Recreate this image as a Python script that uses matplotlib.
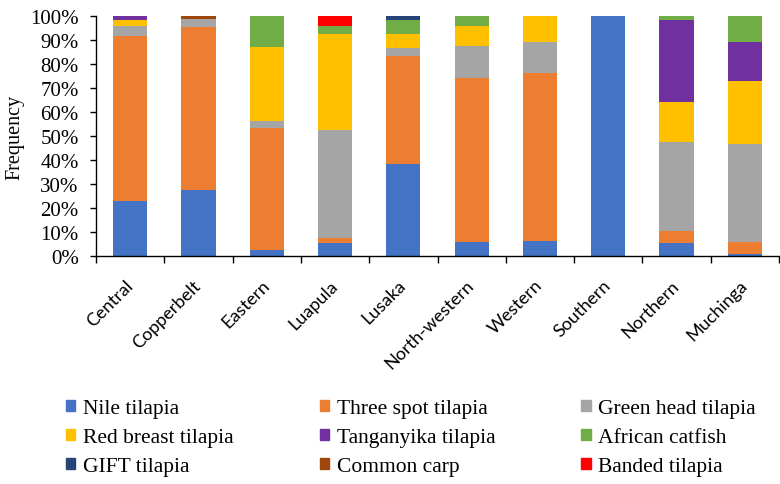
import matplotlib
matplotlib.use("Agg")
import matplotlib.pyplot as plt
from matplotlib.patches import Patch
import numpy as np

regions = ["Central", "Copperbelt", "Eastern", "Luapula", "Lusaka",
           "North-western", "Western", "Southern", "Northern", "Muchinga"]

species = ["Nile tilapia", "Three spot tilapia", "Green head tilapia",
           "Red breast tilapia", "Tanganyika tilapia", "African catfish",
           "GIFT tilapia", "Common carp", "Banded tilapia"]

# percent of each region, stacked bottom to top in the order above
nile       = [22.8, 27.4, 2.6, 5.4, 38.2, 5.8, 6.3, 100.0, 5.3, 1.0]
three_spot = [68.9, 67.9, 50.7, 2.1, 45.3, 68.2, 69.8, 0.0, 5.0, 5.0]
green_head = [4.0, 3.3, 2.8, 44.9, 3.0, 13.6, 13.2, 0.0, 37.1, 40.5]
red_breast = [2.5, 0.0, 31.0, 40.1, 5.9, 8.4, 10.7, 0.0, 16.9, 26.3]
tanganyika = [1.8, 0.0, 0.0, 0.0, 0.0, 0.0, 0.0, 0.0, 34.2, 16.4]
catfish    = [0.0, 0.0, 12.9, 3.2, 5.9, 4.0, 0.0, 0.0, 1.5, 10.8]
gift       = [0.0, 0.0, 0.0, 0.0, 1.7, 0.0, 0.0, 0.0, 0.0, 0.0]
carp       = [0.0, 1.4, 0.0, 0.0, 0.0, 0.0, 0.0, 0.0, 0.0, 0.0]
banded     = [0.0, 0.0, 0.0, 4.3, 0.0, 0.0, 0.0, 0.0, 0.0, 0.0]

series = [nile, three_spot, green_head, red_breast, tanganyika,
          catfish, gift, carp, banded]
colors = ["#4472C4", "#ED7D31", "#A5A5A5", "#FFC000", "#7030A0",
          "#70AD47", "#264478", "#9E480E", "#FF0000"]

fig = plt.figure(figsize=(7.8, 4.85), dpi=100)
ax = fig.add_axes([96 / 780, 1 - 257 / 485, 683 / 780, 240 / 485])

x = np.arange(len(regions))
bottom = np.zeros(len(regions))
for vals, col in zip(series, colors):
    vals = np.array(vals)
    ax.bar(x, vals, width=0.5, bottom=bottom, color=col, linewidth=0)
    bottom += vals

ax.set_xlim(-0.5, len(regions) - 0.5)
ax.set_ylim(0, 100)
ax.set_yticks(np.arange(0, 101, 10))
ax.set_yticklabels([f"{v}%" for v in range(0, 101, 10)],
                   family="Liberation Serif", fontsize=15)
ax.set_ylabel("Frequency", family="Liberation Serif", fontsize=14.5, labelpad=4)

ax.set_xticks(x)
ax.set_xticklabels(regions, rotation=45, ha="right", va="center",
                   rotation_mode="anchor", family="Lato", fontsize=13)
# tick marks sit between the categories, like the spreadsheet original
ax.set_xticks(np.arange(-0.5, len(regions)), minor=True)
ax.tick_params(axis="x", which="major", length=0, pad=19)
ax.tick_params(axis="x", which="minor", length=5, width=1, direction="out")
ax.tick_params(axis="y", length=4.5, width=1, direction="out", pad=8)

for s in ["top", "right"]:
    ax.spines[s].set_visible(False)
for s in ["left", "bottom"]:
    ax.spines[s].set_linewidth(1)
    ax.spines[s].set_color("#000000")

# legend fills row by row in the picture, matplotlib fills by column
order = [0, 3, 6, 1, 4, 7, 2, 5, 8]
handles = [Patch(facecolor=colors[i], edgecolor=colors[i]) for i in order]
labels = [species[i] for i in order]
fig.legend(handles, labels, ncol=3, loc="upper left",
           bbox_to_anchor=(66 / 780, 1 - 400 / 485), frameon=False,
           prop={"family": "Liberation Serif", "size": 15.5},
           handlelength=0.42, handleheight=0.42, handletextpad=0.37,
           columnspacing=4.0, labelspacing=0.47, borderpad=0, borderaxespad=0)

fig.savefig("out.png", dpi=100)
